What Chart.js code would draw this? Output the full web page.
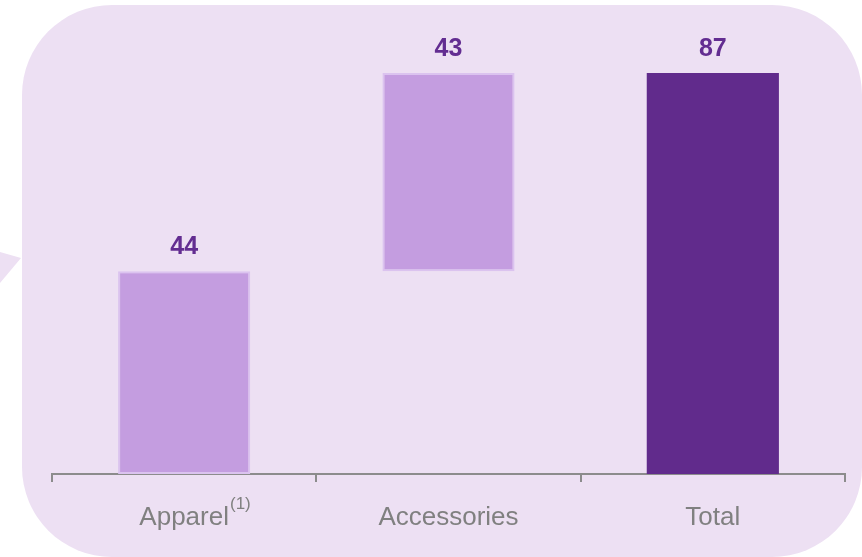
<!DOCTYPE html>
<html>
<head>
<meta charset="utf-8">
<script src="https://cdn.jsdelivr.net/npm/chart.js@4.4.1/dist/chart.umd.min.js"></script>
<style>
  html, body { margin: 0; padding: 0; background: #ffffff; }
  #wrap { position: relative; width: 862px; height: 557px; overflow: hidden; }
  #panel {
    position: absolute; left: 22px; top: 5px; width: 840px; height: 552px;
    background: #ede0f3; border-radius: 90px;
  }
  #tail {
    position: absolute; left: 0; top: 250px; width: 22px; height: 34px;
    background: #ede0f3; clip-path: polygon(0 2px, 21px 8px, 0 33px);
  }
  #c { position: absolute; left: 0; top: 0; }
</style>
</head>
<body>
<div id="wrap">
  <div id="panel"></div>
  <div id="tail"></div>
  <canvas id="c" width="862" height="557"></canvas>
</div>
<script>
const categories = ['Apparel', 'Accessories', 'Total'];
const footnotes = ['(1)', '', ''];
const starts = [0, 44, 0];
const ends = [44, 87, 87];
const barColors = ['#c49de0', '#c49de0', '#612b8c'];
const borderColors = ['#dbc3ef', '#dbc3ef', '#612b8c'];

const LABEL_FONT = '"Liberation Sans", Arial, sans-serif';

// value labels above each floating bar + footnote superscript on tick labels
const labelsPlugin = {
  id: 'waterfallLabels',
  afterDatasetsDraw(chart) {
    const { ctx } = chart;
    const meta = chart.getDatasetMeta(0);
    ctx.save();
    ctx.font = 'bold 25px ' + LABEL_FONT;
    ctx.fillStyle = '#632d91';
    ctx.textAlign = 'center';
    ctx.textBaseline = 'alphabetic';
    meta.data.forEach((bar, i) => {
      const v = ends[i] - starts[i];
      ctx.fillText(String(v), bar.x, bar.y - 17);
    });

    const xs = chart.scales.x;
    footnotes.forEach((f, i) => {
      if (!f) return;
      ctx.font = '26px ' + LABEL_FONT;
      const w = ctx.measureText(categories[i]).width;
      const x = xs.getPixelForTick(i) + w / 2 + 1;
      ctx.font = '17px ' + LABEL_FONT;
      ctx.fillStyle = '#808080';
      ctx.textAlign = 'left';
      ctx.fillText(f, x, xs.top + 35);
    });
    ctx.restore();
  }
};

new Chart(document.getElementById('c'), {
  type: 'bar',
  data: {
    labels: categories,
    datasets: [{
      data: starts.map((s, i) => [s, ends[i]]),
      backgroundColor: barColors,
      borderColor: borderColors,
      borderWidth: [2, 2, 0],
      borderSkipped: false,
      barPercentage: 0.5,
      categoryPercentage: 1,
    }]
  },
  options: {
    responsive: false,
    animation: false,
    layout: { padding: { top: 13, left: 52, right: 17, bottom: 0 } },
    plugins: { legend: { display: false }, tooltip: { enabled: false } },
    scales: {
      x: {
        afterFit: s => { s.height = 83; },
        grid: { drawOnChartArea: false, drawTicks: true, tickLength: 8, color: '#8c8c8c', lineWidth: 2, offset: true },
        border: { display: true, color: '#8c8c8c', width: 2 },
        ticks: { color: '#808080', font: { family: LABEL_FONT, size: 26 }, padding: 20, maxRotation: 0 },
      },
      y: {
        display: false,
        min: 0,
        max: 100,
      }
    }
  },
  plugins: [labelsPlugin]
});
</script>
</body>
</html>
